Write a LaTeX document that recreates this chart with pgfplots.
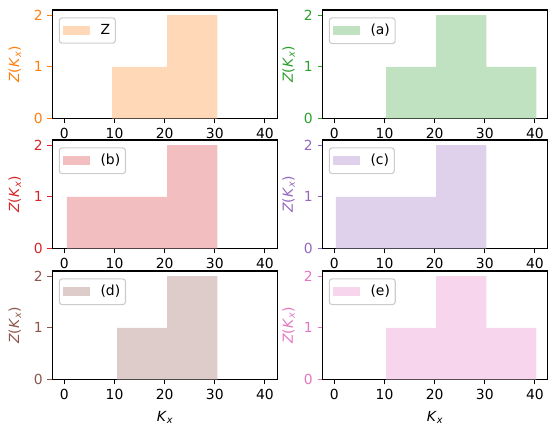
\documentclass[border=0pt]{standalone}
\usepackage{fontspec}
\setmainfont{DejaVu Sans}
\usepackage{pgfplots}
\pgfplotsset{compat=1.18}
\definecolor{tabOrange}{RGB}{255,127,14}
\definecolor{tabGreen}{RGB}{44,160,44}
\definecolor{tabRed}{RGB}{214,39,40}
\definecolor{tabPurple}{RGB}{148,103,189}
\definecolor{tabBrown}{RGB}{140,86,75}
\definecolor{tabPink}{RGB}{227,119,194}
\definecolor{fOrange}{RGB}{255,217,183}
\definecolor{fGreen}{RGB}{192,226,192}
\definecolor{fRed}{RGB}{243,190,191}
\definecolor{fPurple}{RGB}{223,209,235}
\definecolor{fBrown}{RGB}{221,204,201}
\definecolor{fPink}{RGB}{247,214,237}
\definecolor{legframe}{RGB}{204,204,204}
\newcommand{\zlab}{\textit{Z}(\textit{K}\textsubscript{\textit{x}})}
\newcommand{\klab}{\textit{K}\textsubscript{\textit{x}}}
\pgfplotsset{
  panel/.style={
    scale only axis, width=162.4pt, height=78.1pt,
    xmin=-2.4, xmax=42.6, ymin=0, ymax=2.1,
    xtick={0,10,20,30,40}, ytick={0,1,2},
    tick align=outside, xtick pos=bottom, ytick pos=left,
    major tick length=3.5pt,
    axis line style={line width=0.8pt},
    tick style={line width=0.8pt, black},
    /pgf/number format/assume math mode=true,
    ticklabel style={font=\fontsize{10}{12}\selectfont},
    label style={font=\fontsize{10}{12}\selectfont},
    ylabel={\zlab},
    legend style={at={(axis description cs:0,1)}, anchor=north west,
      xshift=4.6pt, yshift=-5.3pt, draw=legframe, line width=0.8pt,
      rounded corners=2pt, font=\fontsize{10}{12}\selectfont,
      inner xsep=2.3pt, inner ysep=3.2pt, column sep=5.9pt,
      nodes={inner sep=1.5pt}},
    legend cell align=left,
  },
  colored/.style={
    ylabel style={color=#1},
    yticklabel style={color=#1},
    y tick style={color=#1},
  },
  leftlab/.style={ylabel style={at={(axis description cs:-0.166,0.5)}, anchor=center}},
  rightlab/.style={ylabel style={at={(axis description cs:-0.150,0.5)}, anchor=center}},
  botlab/.style={xlabel={\klab}, xlabel style={at={(axis description cs:0.5,0)}, anchor=center, yshift=-27.1pt}},
  hist/.style={fill=#1, draw=none, area legend,
    legend image code/.code={\fill[#1, sharp corners] (0pt,-3.1pt) rectangle (20pt,3.1pt);}},
}
\begin{document}
\begin{tikzpicture}
\path[use as bounding box] (0,0) rectangle (401.04pt,-313.2pt);
% Row 1 left: Z
\begin{axis}[panel, colored=tabOrange, leftlab, at={(37.7pt,-7.2pt)}, anchor=north west]
\addplot[hist=fOrange] coordinates {(9.5,0) (9.5,1) (20.5,1) (20.5,2) (30.5,2) (30.5,0)} -- cycle;
\addlegendentry{Z}
\end{axis}
% Row 1 right: (a)
\begin{axis}[panel, colored=tabGreen, rightlab, at={(232.1pt,-7.2pt)}, anchor=north west]
\addplot[hist=fGreen] coordinates {(10.3,0) (10.3,1) (20.3,1) (20.3,2) (30.3,2) (30.3,1) (40.3,1) (40.3,0)} -- cycle;
\addlegendentry{(a)}
\end{axis}
% Row 2 left: (b)
\begin{axis}[panel, colored=tabRed, leftlab, at={(37.7pt,-100.8pt)}, anchor=north west]
\addplot[hist=fRed] coordinates {(0.5,0) (0.5,1) (20.5,1) (20.5,2) (30.5,2) (30.5,0)} -- cycle;
\addlegendentry{(b)}
\end{axis}
% Row 2 right: (c)
\begin{axis}[panel, colored=tabPurple, rightlab, at={(232.1pt,-100.8pt)}, anchor=north west]
\addplot[hist=fPurple] coordinates {(0.3,0) (0.3,1) (20.3,1) (20.3,2) (30.3,2) (30.3,0)} -- cycle;
\addlegendentry{(c)}
\end{axis}
% Row 3 left: (d)
\begin{axis}[panel, colored=tabBrown, leftlab, botlab, at={(37.7pt,-195.1pt)}, anchor=north west]
\addplot[hist=fBrown] coordinates {(10.5,0) (10.5,1) (20.5,1) (20.5,2) (30.5,2) (30.5,0)} -- cycle;
\addlegendentry{(d)}
\end{axis}
% Row 3 right: (e)
\begin{axis}[panel, colored=tabPink, rightlab, botlab, at={(232.1pt,-195.1pt)}, anchor=north west]
\addplot[hist=fPink] coordinates {(10.3,0) (10.3,1) (20.3,1) (20.3,2) (30.3,2) (30.3,1) (40.3,1) (40.3,0)} -- cycle;
\addlegendentry{(e)}
\end{axis}
\end{tikzpicture}
\end{document}
